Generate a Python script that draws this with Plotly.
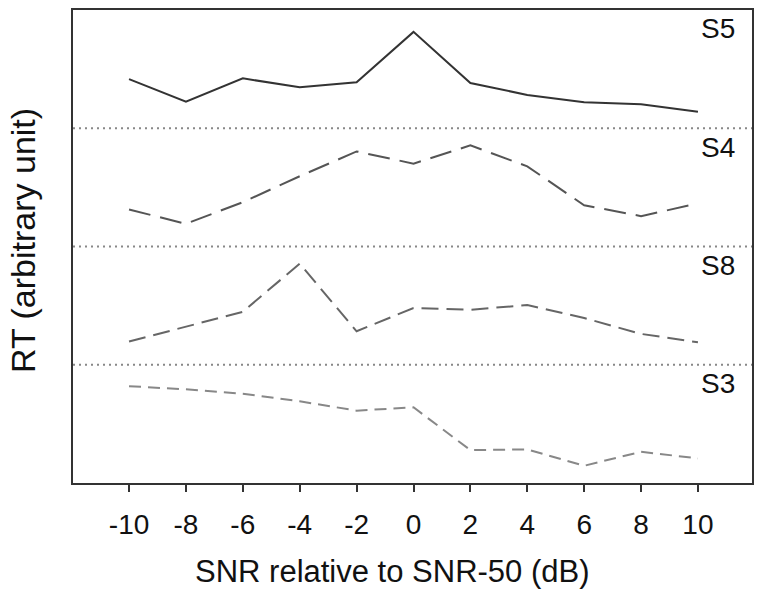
import plotly.graph_objects as go

snr = [-10, -8, -6, -4, -2, 0, 2, 4, 6, 8, 10]
s5 = [3.416, 3.225, 3.422, 3.346, 3.388, 3.815, 3.383, 3.282, 3.219, 3.203, 3.139]
s4 = [2.313, 2.192, 2.375, 2.594, 2.804, 2.701, 2.855, 2.678, 2.349, 2.257, 2.364]
s8 = [1.196, 1.322, 1.448, 1.855, 1.283, 1.480, 1.465, 1.505, 1.395, 1.261, 1.190]
s3 = [0.819, 0.792, 0.755, 0.691, 0.612, 0.640, 0.278, 0.284, 0.146, 0.264, 0.208]
series_names = ["S5", "S4", "S8", "S3"]
band_tops = [4, 3, 2, 1]
separators = [1, 2, 3]
tick_vals = [-10, -8, -6, -4, -2, 0, 2, 4, 6, 8, 10]

FONT = "Liberation Sans, Arial, sans-serif"

styles = [
    dict(color="#333333", dash="solid"),
    dict(color="#555555", dash="22px,10px"),
    dict(color="#666666", dash="17px,8px"),
    dict(color="#888888", dash="12px,7px"),
]

fig = go.Figure()
for name, vals, st in zip(series_names, [s5, s4, s8, s3], styles):
    fig.add_trace(go.Scatter(x=snr, y=vals, mode="lines", name=name,
                             line=dict(color=st["color"], dash=st["dash"], width=2)))

for s in separators:
    fig.add_shape(type="line", xref="paper", x0=0, x1=1, yref="y", y0=s, y1=s,
                  line=dict(color="#888888", width=2, dash="2px,4px"))

for name, top in zip(series_names, band_tops):
    fig.add_annotation(text=name, xref="paper", x=(737 - 73) / 679, xanchor="right",
                       yref="y", y=top - 19 / 118.75, yanchor="middle", showarrow=False,
                       font=dict(family=FONT, size=28, color="#111111"))

fig.add_annotation(text="SNR relative to SNR-50 (dB)", xref="paper", x=(392.5 - 73) / 679,
                   yref="paper", y=(483 - 572) / 475, xanchor="center", yanchor="middle",
                   showarrow=False, font=dict(family=FONT, size=31, color="#111111"))
fig.add_annotation(text="RT (arbitrary unit)", xref="paper", x=-(73 - 23) / 679,
                   yref="paper", y=(483 - 240) / 475, xanchor="center", yanchor="middle",
                   textangle=-90, showarrow=False,
                   font=dict(family=FONT, size=34, color="#111111"))

fig.update_layout(
    width=762, height=602,
    margin=dict(l=73, r=10, t=8, b=119),
    paper_bgcolor="white", plot_bgcolor="white",
    showlegend=False,
    xaxis=dict(range=[-11.97, 11.90], tickvals=tick_vals, ticktext=[str(v) for v in tick_vals],
               ticks="outside", ticklen=7, tickwidth=1.5, tickcolor="#333333",
               ticklabelstandoff=8,
               showline=True, linecolor="#333333", linewidth=2, mirror=True,
               showgrid=False, zeroline=False,
               tickfont=dict(family=FONT, size=28, color="#111111")),
    yaxis=dict(range=[0, 4], showticklabels=False, ticks="",
               showline=True, linecolor="#333333", linewidth=2, mirror=True,
               showgrid=False, zeroline=False),
)

fig.write_html("out.html", config={"displayModeBar": False},
               post_script="document.body.style.margin='0';")
